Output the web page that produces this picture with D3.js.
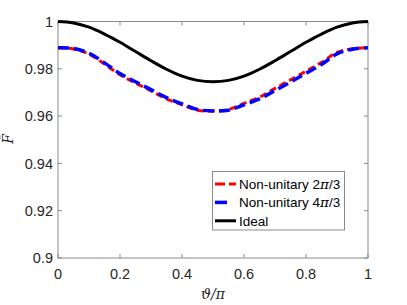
<!DOCTYPE html>
<html>
<head>
<meta charset="utf-8">
<script src="https://cdn.jsdelivr.net/npm/d3@7"></script>
<style>
  body { margin: 0; background: #fff; }
  svg { display: block; }
</style>
</head>
<body>
<svg id="chart"></svg>
<script>
const width = 407, height = 305;
const marginLeft = 58, marginRight = 39, marginTop = 21.5, marginBottom = 47;

// theta / pi sample points
const theta = [0, 0.05, 0.1, 0.15, 0.2, 0.25, 0.3, 0.35, 0.4, 0.45, 0.5,
               0.55, 0.6, 0.65, 0.7, 0.75, 0.8, 0.85, 0.9, 0.95, 1];
const fidRed = [0.9889, 0.9884, 0.9862, 0.9820, 0.9775, 0.9740, 0.9707, 0.9673, 0.9648, 0.9625, 0.9622,
                0.9628, 0.9654, 0.9680, 0.9717, 0.9753, 0.9790, 0.9827, 0.9869, 0.9885, 0.9889];
const fidBlue = [0.9889, 0.9886, 0.9866, 0.9825, 0.9780, 0.9745, 0.9712, 0.9678, 0.9652, 0.9628, 0.9622,
                 0.9625, 0.9648, 0.9673, 0.9708, 0.9744, 0.9781, 0.9818, 0.9863, 0.9883, 0.9889];
const fidIdeal = [1, 0.9994, 0.9976, 0.9947, 0.9912, 0.9873, 0.9834, 0.9798, 0.9769, 0.9751, 0.9745,
                  0.9751, 0.9769, 0.9798, 0.9834, 0.9873, 0.9912, 0.9947, 0.9976, 0.9994, 1];

const xTicks = [0, 0.2, 0.4, 0.6, 0.8, 1];
const yTicks = [0.9, 0.92, 0.94, 0.96, 0.98, 1];
const legendLabels = ["Non-unitary 2", "Non-unitary 4", "Ideal"];

const x = d3.scaleLinear().domain([0, 1]).range([marginLeft, width - marginRight]);
const y = d3.scaleLinear().domain([0.9, 1]).range([height - marginBottom, marginTop]);

const svg = d3.select('#chart')
  .attr('width', width)
  .attr('height', height)
  .attr('viewBox', [0, 0, width, height]);

const axisColor = '#8a8a8a';
const textColor = '#262626';
const tickFont = 'Liberation Sans, Arial, sans-serif';

// box
svg.append('rect')
  .attr('x', x(0)).attr('y', y(1))
  .attr('width', x(1) - x(0)).attr('height', y(0.9) - y(1))
  .attr('fill', 'none').attr('stroke', axisColor).attr('stroke-width', 1);

// ticks on all sides
const tl = 4;
xTicks.forEach(t => {
  svg.append('line').attr('x1', x(t)).attr('x2', x(t)).attr('y1', y(0.9)).attr('y2', y(0.9) - tl).attr('stroke', axisColor);
  svg.append('line').attr('x1', x(t)).attr('x2', x(t)).attr('y1', y(1)).attr('y2', y(1) + tl).attr('stroke', axisColor);
  svg.append('text').attr('x', x(t)).attr('y', y(0.9) + 20.5)
    .attr('text-anchor', 'middle').attr('fill', textColor)
    .style('font-family', tickFont).style('font-size', '14.5px')
    .text(d3.format('~g')(t));
});
yTicks.forEach(t => {
  svg.append('line').attr('x1', x(0)).attr('x2', x(0) + tl).attr('y1', y(t)).attr('y2', y(t)).attr('stroke', axisColor);
  svg.append('line').attr('x1', x(1)).attr('x2', x(1) - tl).attr('y1', y(t)).attr('y2', y(t)).attr('stroke', axisColor);
  svg.append('text').attr('x', x(0) - 5).attr('y', y(t) + 5.2)
    .attr('text-anchor', 'end').attr('fill', textColor)
    .style('font-family', tickFont).style('font-size', '14.5px')
    .text(d3.format('~g')(t));
});

// curves
const data = theta.map((t, i) => ({t, r: fidRed[i], b: fidBlue[i], k: fidIdeal[i]}));
const lineOf = key => d3.line().x(d => x(d.t)).y(d => y(d[key])).curve(d3.curveCatmullRom);

svg.append('path').datum(data).attr('d', lineOf('k'))
  .attr('fill', 'none').attr('stroke', '#000').attr('stroke-width', 3);
svg.append('path').datum(data).attr('d', lineOf('r'))
  .attr('fill', 'none').attr('stroke', '#ff0000').attr('stroke-width', 3)
  .attr('stroke-dasharray', '7,4');
svg.append('path').datum(data).attr('d', lineOf('b'))
  .attr('fill', 'none').attr('stroke', '#0000ff').attr('stroke-width', 3.5)
  .attr('stroke-dasharray', '11,5');

// axis labels
svg.append('text').attr('x', x(0.5)).attr('y', 299)
  .attr('text-anchor', 'middle').attr('fill', textColor)
  .style('font-family', 'DejaVu Serif, serif').style('font-style', 'italic').style('font-size', '14px')
  .text('ϑ/π');
svg.append('text').attr('transform', 'translate(13,139) rotate(-90)')
  .attr('text-anchor', 'middle').attr('fill', textColor)
  .style('font-family', 'DejaVu Serif, serif').style('font-style', 'italic').style('font-size', '14px')
  .text('F\u0304');

// legend
const lg = svg.append('g');
lg.append('rect').attr('x', 212.5).attr('y', 171.5).attr('width', 132).attr('height', 58.5)
  .attr('fill', '#fff').attr('stroke', axisColor);
const legendStyles = [
  {c: '#ff0000', w: 3, dash: '10,4', den: '/3'},
  {c: '#0000ff', w: 3.5, dash: '12,20', den: '/3'},
  {c: '#000', w: 3, dash: null, den: null}
];
legendLabels.forEach((lab, i) => {
  const yy = 184 + i * 18.4;
  const s = legendStyles[i];
  const ln = lg.append('line').attr('x1', 215).attr('x2', 236).attr('y1', yy).attr('y2', yy)
    .attr('stroke', s.c).attr('stroke-width', s.w);
  if (s.dash) ln.attr('stroke-dasharray', s.dash);
  const tx = lg.append('text').attr('x', 239).attr('y', yy + 5)
    .attr('fill', '#000').style('font-family', tickFont).style('font-size', '13.5px');
  tx.append('tspan').text(lab);
  if (s.den) {
    tx.append('tspan').style('font-family', 'DejaVu Serif, serif').style('font-style', 'italic').text('π');
    tx.append('tspan').text(s.den);
  }
});
</script>
</body>
</html>
